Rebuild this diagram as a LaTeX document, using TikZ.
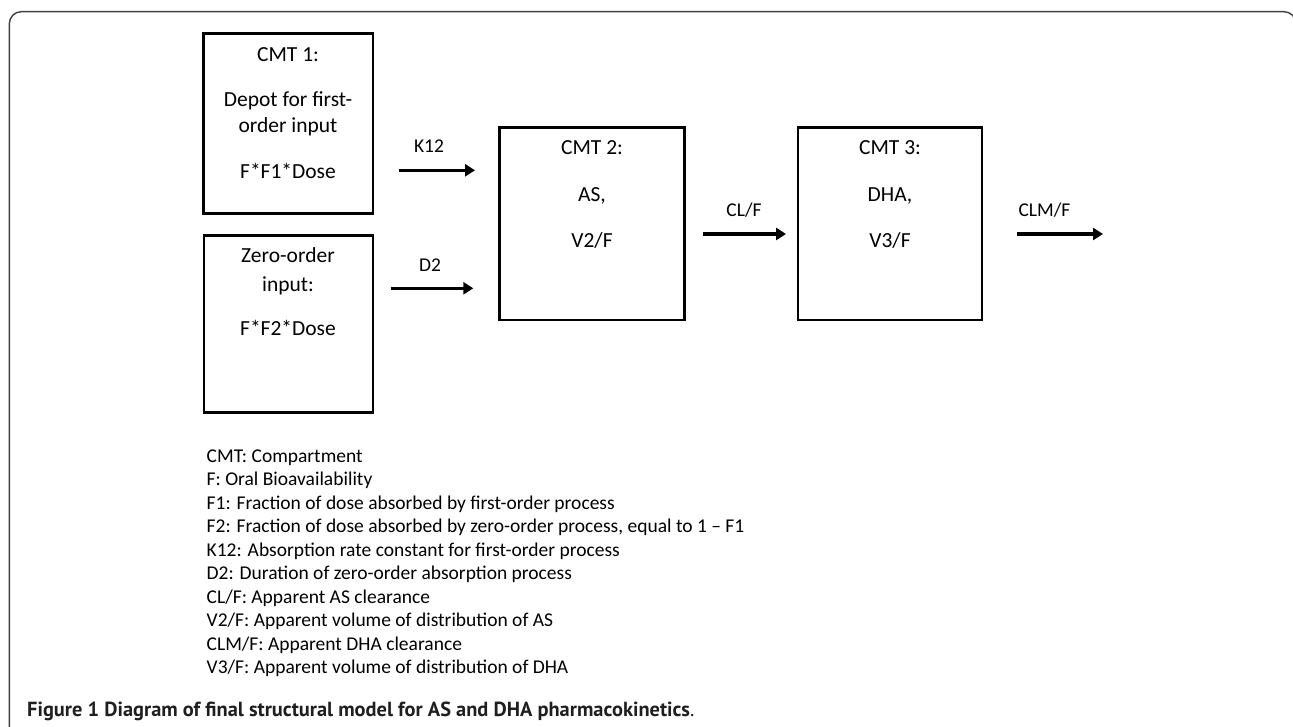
\documentclass[tikz,border=0pt]{standalone}
\usepackage{fontspec}
\setmainfont{Carlito}
\newfontfamily\capfont{PT Sans}
\usetikzlibrary{arrows.meta}
\begin{document}
\begin{tikzpicture}[x=1pt,y=-1pt,
  box/.style={draw=black, line width=2.7pt, inner sep=0pt},
  boxtxt/.style={anchor=base, inner sep=0pt, font=\fontsize{21.5}{26}\selectfont},
  lbl/.style={anchor=base, inner sep=0pt, font=\fontsize{19.5}{23}\selectfont},
  leg/.style={anchor=base west, inner sep=0pt, font=\fontsize{19.5}{23.5}\selectfont},
  flow/.style={line width=3.2pt, -{Triangle[length=10pt,width=12pt]}},
  frame/.style={draw=black!75, line width=1.4pt, rounded corners=12pt}]
\useasboundingbox (0,0) rectangle (1293,727);
\fill[white] (0,0) rectangle (1293,727);
% frame
\draw[frame] (9.3,735) -- (9.3,11.7) -- (1296,11.7) -- (1296,735);
% boxes
\node[box, minimum width=169.5pt, minimum height=180pt] (cmt1) at (288.25,123.5) {};
\node[box, minimum width=169pt, minimum height=177.4pt] (zero) at (288.5,324) {};
\node[box, minimum width=185pt, minimum height=192.5pt] (cmt2) at (592,223.75) {};
\node[box, minimum width=184pt, minimum height=192.5pt] (cmt3) at (890,223.75) {};
% box texts
\node[boxtxt] (t1a) at (288,62) {CMT 1:};
\node[boxtxt] (t1b) at (288,107) {Depot for first-};
\node[boxtxt] (t1c) at (288,133) {order input};
\node[boxtxt] (t1d) at (288,179) {F*F1*Dose};
\node[boxtxt] (t2a) at (288,263) {Zero-order};
\node[boxtxt] (t2b) at (288,291) {input:};
\node[boxtxt] (t2c) at (288,335) {F*F2*Dose};
\node[boxtxt] (t3a) at (592,155) {CMT 2:};
\node[boxtxt] (t3b) at (592,202) {AS,};
\node[boxtxt] (t3c) at (592,248) {V2/F};
\node[boxtxt] (t4a) at (890,155) {CMT 3:};
\node[boxtxt] (t4b) at (890,202) {DHA,};
\node[boxtxt] (t4c) at (890,248) {V3/F};
% arrows
\coordinate (k12s) at (399.3,170.3); \coordinate (k12e) at (475,170.3);
\coordinate (d2s) at (390.7,288.3);  \coordinate (d2e) at (473.3,288.3);
\coordinate (cls) at (703,234);      \coordinate (cle) at (786,234);
\coordinate (clms) at (1017,234);    \coordinate (clme) at (1103,234);
\draw[flow] (k12s) -- (k12e);
\draw[flow] (d2s) -- (d2e);
\draw[flow] (cls) -- (cle);
\draw[flow] (clms) -- (clme);
\node[lbl] (lk12) at (429,152.7) {K12};
\node[lbl] (ld2) at (430,271.7) {D2};
\node[lbl] (lcl) at (744,216.7) {CL/F};
\node[lbl] (lclm) at (1044.4,216.7) {CLM/F};
% legend
\node[leg] (g1) at (206.5,462) {CMT: Compartment};
\node[leg] (g2) at (206.5,485.5) {F: Oral Bioavailability};
\node[leg] (g3) at (206.5,509) {F1: Fraction of dose absorbed by first-order process};
\node[leg] (g4) at (206.5,532.5) {F2: Fraction of dose absorbed by zero-order process, equal to 1 – F1};
\node[leg] (g5) at (206.5,556) {K12: Absorption rate constant for first-order process};
\node[leg] (g6) at (206.5,579.5) {D2: Duration of zero-order absorption process};
\node[leg] (g7) at (206.5,603) {CL/F: Apparent AS clearance};
\node[leg] (g8) at (206.5,626.5) {V2/F: Apparent volume of distribution of AS};
\node[leg] (g9) at (206.5,650) {CLM/F: Apparent DHA clearance};
\node[leg] (g10) at (206.5,673.5) {V3/F: Apparent volume of distribution of DHA};
% caption
\node[anchor=base west, inner sep=0pt, text=black!88, font=\capfont\fontsize{20.4}{24}\selectfont] (cap) at (27,716)
  {\textbf{Figure 1 Diagram of final structural model for AS and DHA pharmacokinetics}.};
\end{tikzpicture}
\end{document}
